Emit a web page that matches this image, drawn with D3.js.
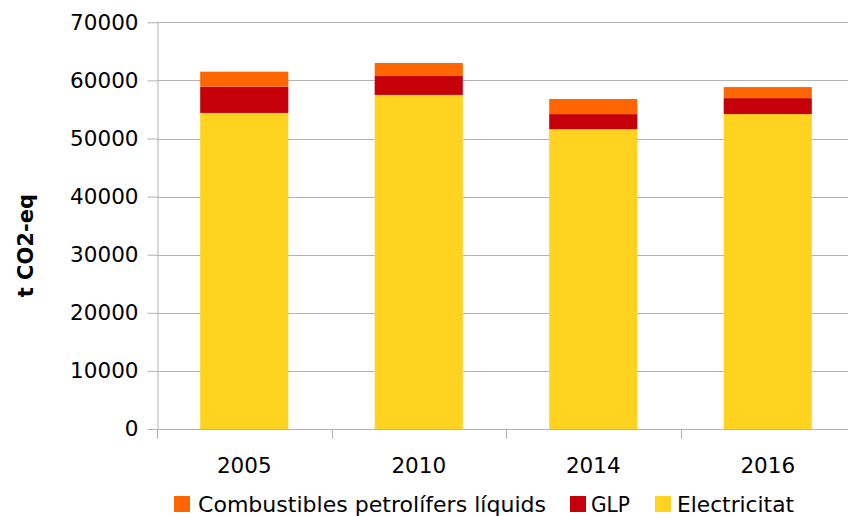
<!DOCTYPE html>
<html>
<head>
<meta charset="utf-8">
<script src="https://cdn.jsdelivr.net/npm/d3@7"></script>
<style>
  body { margin: 0; background: #fff; }
  svg { display: block; font-family: "DejaVu Sans", sans-serif; }
</style>
</head>
<body>
<div id="chart"></div>
<script>
// values (t CO2-eq)
const years = ["2005", "2010", "2014", "2016"];
const electricitat = [54400, 57500, 51600, 54200];
const glp = [4500, 3250, 2600, 2750];
const combustibles = [2600, 2250, 2600, 1900];
const yTicks = [0, 10000, 20000, 30000, 40000, 50000, 60000, 70000];
const seriesNames = ["Electricitat", "GLP", "Combustibles petrolífers líquids"];
const legendOrder = ["Combustibles petrolífers líquids", "GLP", "Electricitat"];

const colors = {
  "Electricitat": "#ffd320",
  "GLP": "#c5000b",
  "Combustibles petrolífers líquids": "#ff6600"
};

const width = 848, height = 516;
const margin = {top: 22.3, right: -7, bottom: 87, left: 157};

const rows = years.map((yr, i) => ({
  year: yr,
  "Electricitat": electricitat[i],
  "GLP": glp[i],
  "Combustibles petrolífers líquids": combustibles[i]
}));

const x = d3.scaleBand()
  .domain(years)
  .range([margin.left, width - margin.right])
  .paddingInner(0.495)
  .paddingOuter(0.2475);

const y = d3.scaleLinear()
  .domain([0, 70000])
  .range([height - margin.bottom, margin.top]);

const svg = d3.select("#chart")
  .append("svg")
  .attr("width", width)
  .attr("height", height);

// gridlines
svg.append("g")
  .selectAll("line")
  .data(yTicks.slice(1))
  .join("line")
  .attr("x1", margin.left)
  .attr("x2", width)
  .attr("y1", d => Math.round(y(d)) + 0.5)
  .attr("y2", d => Math.round(y(d)) + 0.5)
  .attr("stroke", "#b3b3b3")
  .attr("stroke-width", 1);

const stack = d3.stack().keys(seriesNames)(rows);

svg.append("g")
  .selectAll("g")
  .data(stack)
  .join("g")
  .attr("fill", d => colors[d.key])
  .selectAll("rect")
  .data(d => d)
  .join("rect")
  .attr("x", d => x(d.data.year))
  .attr("width", x.bandwidth())
  .attr("y", d => y(d[1]))
  .attr("height", d => y(d[0]) - y(d[1]));

// y axis
const yAxis = svg.append("g")
  .attr("transform", `translate(${margin.left + 0.5},0)`)
  .call(d3.axisLeft(y).tickValues(yTicks).tickSize(10).tickSizeOuter(0).tickPadding(9).tickFormat(d3.format("d")));
yAxis.select(".domain").attr("stroke", "#b3b3b3");
yAxis.selectAll(".tick line").attr("stroke", "#b3b3b3");
yAxis.selectAll(".tick text")
  .attr("font-size", 21.5)
  .attr("font-family", "DejaVu Sans")
  .attr("fill", "#000");

// x axis: ticks at category boundaries
const step = x.step();
const x0 = margin.left;
const boundaries = d3.range(years.length + 1).map(i => x0 + i * step);
const xg = svg.append("g");
xg.append("line")
  .attr("x1", margin.left)
  .attr("x2", width)
  .attr("y1", y(0) + 0.5)
  .attr("y2", y(0) + 0.5)
  .attr("stroke", "#b3b3b3");
xg.selectAll("line.tk")
  .data(boundaries)
  .join("line")
  .attr("class", "tk")
  .attr("x1", d => Math.round(d) + 0.5)
  .attr("x2", d => Math.round(d) + 0.5)
  .attr("y1", y(0))
  .attr("y2", y(0) + 10)
  .attr("stroke", "#b3b3b3");
xg.selectAll("text")
  .data(years)
  .join("text")
  .attr("x", d => x(d) + x.bandwidth() / 2)
  .attr("y", y(0) + 44)
  .attr("text-anchor", "middle")
  .attr("font-size", 21.5)
  .text(d => d);

// y axis title
svg.append("text")
  .attr("transform", `translate(33,${(y(0) + y(70000)) / 2 + 20}) rotate(-90)`)
  .attr("text-anchor", "middle")
  .attr("font-size", 21)
  .attr("font-weight", "bold")
  .text("t CO2-eq");

// legend
const legendPos = [
  {sq: 174, tx: 198, w: 348},
  {sq: 570, tx: 591, w: 39},
  {sq: 655, tx: 677, w: 117}
];
const legend = svg.append("g")
  .selectAll("g")
  .data(legendOrder)
  .join("g");
legend.append("rect")
  .attr("x", (d, i) => legendPos[i].sq)
  .attr("y", 496)
  .attr("width", 16)
  .attr("height", 16)
  .attr("fill", d => colors[d]);
legend.append("text")
  .attr("x", (d, i) => legendPos[i].tx)
  .attr("y", 512)
  .attr("font-size", 21.5)
  .attr("textLength", (d, i) => legendPos[i].w)
  .attr("lengthAdjust", "spacingAndGlyphs")
  .text(d => d);
</script>
</body>
</html>
